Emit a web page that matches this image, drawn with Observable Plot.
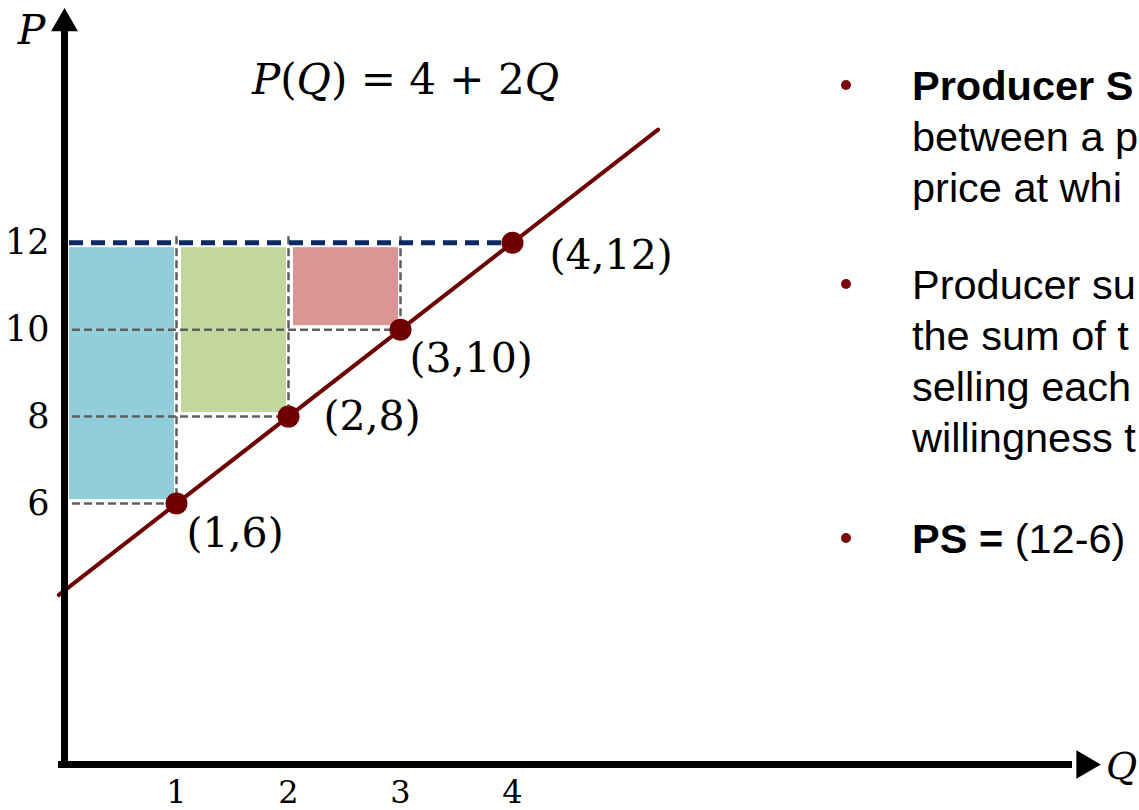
<!DOCTYPE html>
<html><head><meta charset="utf-8">
<script src="https://cdn.jsdelivr.net/npm/d3@7"></script>
<script src="https://cdn.jsdelivr.net/npm/@observablehq/plot@0.6"></script>
<style>
html,body{margin:0;padding:0;background:#fff;}
#wrap{position:relative;width:1139px;height:810px;overflow:hidden;}
#notes{position:absolute;left:0;top:0;width:1139px;height:810px;overflow:hidden;pointer-events:none;font-family:"Liberation Sans",Arial,sans-serif;font-size:41.5px;color:#000;}
.para{position:absolute;left:912px;line-height:51px;white-space:nowrap;}
.bullet{position:absolute;left:841px;width:10px;height:10px;border-radius:50%;background:#7a0a0a;}
</style></head>
<body><div id="wrap"><div id="chart"></div><div id="notes"></div></div>
<script>
// ---- data ----
const quantities = [1, 2, 3, 4];
const prices = [6, 8, 10, 12];
const pointLabels = ["(1,6)", "(2,8)", "(3,10)", "(4,12)"];
const marketPrice = 12;
const surplusUnits = ["unit 1", "unit 2", "unit 3"];
const surplusQStart = [0, 1, 2];
const surplusQEnd = [1, 2, 3];
const surplusPLow = [6, 8, 10];
const supplyQ = [-0.05, 5.3];
const supplyP = [3.9, 14.6];
const xTicks = [1, 2, 3, 4];
const yTicks = [6, 8, 10, 12];
const equation = "P(Q) = 4 + 2Q";
const axisNames = ["P", "Q"];
// text as visible in the (right-edge cropped) reference
const noteParas = [
  ["<b>Producer S</b>", "between a p", "price at whi"],
  ["Producer su", "the sum of t", "selling each", "willingness t"],
  ["<b>PS =</b> (12-6)"]
];

// ---- tables ----
const pts = quantities.map((q, i) => ({q, p: prices[i], label: pointLabels[i]}));
const blocks = surplusUnits.map((u, i) => ({u, q0: surplusQStart[i], q1: surplusQEnd[i], p0: surplusPLow[i], p1: marketPrice}));
const supply = supplyQ.map((q, i) => ({q, p: supplyP[i]}));
const below = pts.filter(d => d.p < marketPrice);

const labelOffsets = [[10, 30], [35, 0], [9, 29], [37, 13]];
const serif = "DejaVu Serif";
const red = "#6e0000";

const chart = Plot.plot({
  width: 1139, height: 810,
  marginLeft: 64, marginRight: 11, marginTop: 3, marginBottom: 46,
  x: {domain: [0, 9.5]},
  y: {domain: [0, 17.5]},
  color: {domain: surplusUnits, range: ["#92CDDC", "#C3D69B", "#D99694"]},
  style: {background: "transparent", color: "black", overflow: "visible"},
  marks: [
    Plot.rect(blocks, {x1: "q0", x2: "q1", y1: "p0", y2: "p1", fill: "u", insetLeft: 5, insetRight: 2, insetTop: 5, insetBottom: 4}),
    Plot.ruleY(below, {y: "p", x1: () => 0, x2: "q", insetLeft: 8, stroke: "#5f5f5f", strokeWidth: 2.5, strokeDasharray: "8,4"}),
    Plot.ruleX(below, {x: "q", y1: () => marketPrice, y2: "p", insetTop: -6, stroke: "#5f5f5f", strokeWidth: 2.5, strokeDasharray: "8,4"}),
    Plot.ruleY([marketPrice], {x1: () => 0, x2: () => quantities[quantities.length - 1], insetLeft: 5, stroke: "#0b2a63", strokeWidth: 5, strokeDasharray: "14,8"}),
    Plot.line(supply, {x: "q", y: "p", stroke: red, strokeWidth: 4}),
    Plot.dot(pts, {x: "q", y: "p", r: 11, fill: red, stroke: "none"}),
    ...pts.map((d, i) => Plot.text([d], {x: "q", y: "p", text: "label", textAnchor: "start", dx: labelOffsets[i][0], dy: labelOffsets[i][1], fontSize: 41, fontFamily: serif})),
    Plot.ruleX([0], {insetTop: 22, insetBottom: -4, stroke: "black", strokeWidth: 7}),
    Plot.ruleY([0], {insetLeft: -6, insetRight: 56, stroke: "black", strokeWidth: 7}),
    Plot.dot([0], {frameAnchor: "top-left", dy: 20, symbol: "triangle", r: 10, fill: "black", stroke: "none"}),
    Plot.dot([0], {frameAnchor: "bottom-right", dx: -44, symbol: "triangle", rotate: 90, r: 10.5, fill: "black", stroke: "none"}),
    Plot.axisX({ticks: xTicks, tickSize: 0, tickPadding: 16, fontSize: 32, fontFamily: serif, label: null, anchor: "bottom"}),
    Plot.axisY({ticks: yTicks, tickSize: 0, tickPadding: 15, fontSize: 35, fontFamily: serif, label: null, anchor: "left"}),
    Plot.text([axisNames[0]], {text: d => d, frameAnchor: "top-left", textAnchor: "middle", lineAnchor: "middle", dx: -33, dy: 27, fontSize: 41, fontStyle: "italic", fontFamily: serif}),
    Plot.text([axisNames[1]], {text: d => d, frameAnchor: "bottom-right", textAnchor: "middle", lineAnchor: "middle", dx: -7, dy: 2, fontSize: 38, fontStyle: "italic", fontFamily: serif}),
    Plot.text([equation], {text: d => d, frameAnchor: "top-left", textAnchor: "middle", lineAnchor: "middle", dx: 341, dy: 77, fontSize: 42, fontFamily: serif})
  ]
});

// italicise the variables in the equation
d3.select(chart).selectAll("text").filter(function () { return this.textContent === equation; }).each(function () {
  const t = d3.select(this);
  t.text(null);
  equation.split(/([PQ])/).filter(s => s.length).forEach(s => {
    t.append("tspan").attr("font-style", /^[PQ]$/.test(s) ? "italic" : null).text(s);
  });
});

document.getElementById("chart").appendChild(chart);

// ---- bullet notes ----
const notesEl = document.getElementById("notes");
const paraTops = [60, 259, 513];
noteParas.forEach((lines, i) => {
  const b = document.createElement("div");
  b.className = "bullet";
  b.style.top = (paraTops[i] + 20) + "px";
  notesEl.appendChild(b);
  const p = document.createElement("div");
  p.className = "para";
  p.style.top = paraTops[i] + "px";
  p.innerHTML = lines.join("<br>");
  notesEl.appendChild(p);
});
</script>
</body></html>
